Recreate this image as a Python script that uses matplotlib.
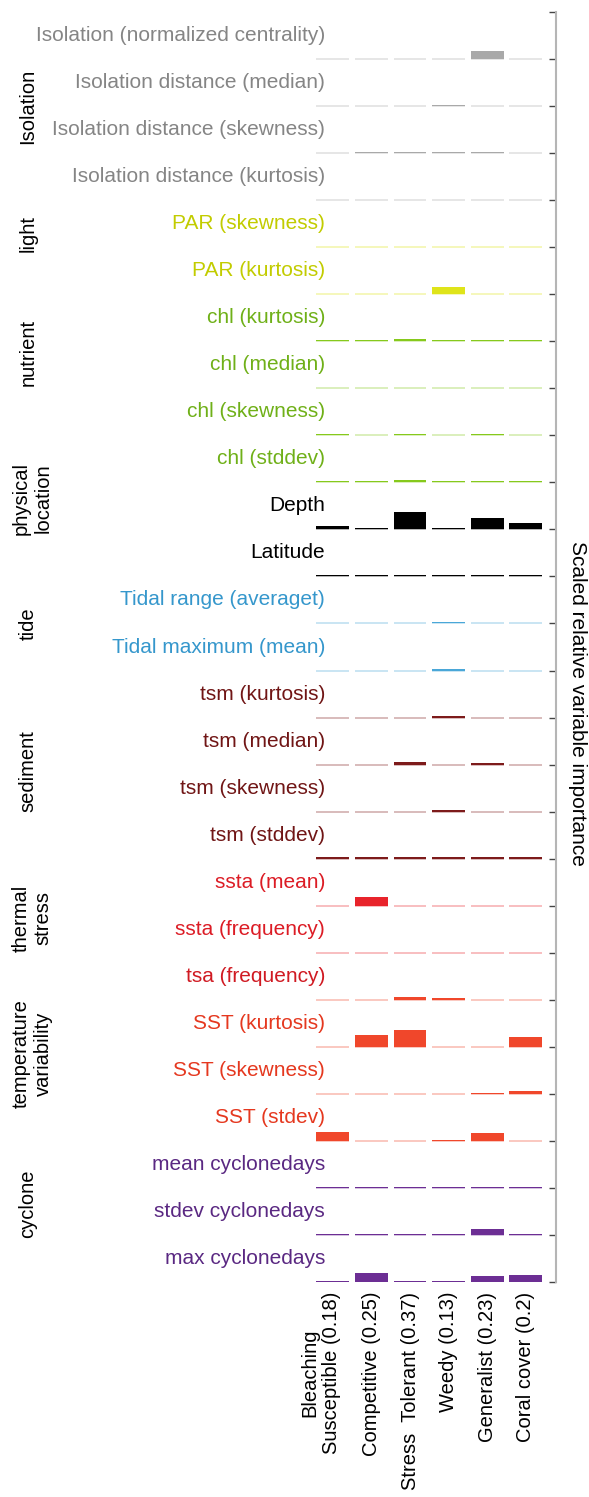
import numpy as np
import matplotlib
matplotlib.use("Agg")
import matplotlib.pyplot as plt
from matplotlib import transforms

plt.rcParams["font.family"] = ["Liberation Sans", "DejaVu Sans"]

# columns (model, AUC)
columns = ["Bleaching\nSusceptible (0.18)", "Competitive (0.25)",
           "Stress  Tolerant (0.37)", "Weedy (0.13)", "Generalist (0.23)",
           "Coral cover (0.2)"]

variables = ["Isolation (normalized centrality)", "Isolation distance (median)",
             "Isolation distance (skewness)", "Isolation distance (kurtosis)",
             "PAR (skewness)", "PAR (kurtosis)",
             "chl (kurtosis)", "chl (median)", "chl (skewness)", "chl (stddev)",
             "Depth", "Latitude",
             "Tidal range (averaget)", "Tidal maximum (mean)",
             "tsm (kurtosis)", "tsm (median)", "tsm (skewness)", "tsm (stddev)",
             "ssta (mean)", "ssta (frequency)",
             "tsa (frequency)", "SST (kurtosis)", "SST (skewness)", "SST (stdev)",
             "mean cyclonedays", "stdev cyclonedays", "max cyclonedays"]

groups = ["Isolation", "light", "nutrient", "physical\nlocation", "tide",
          "sediment", "thermal\nstress", "temperature\nvariability", "cyclone"]
group_sizes = [4, 2, 4, 2, 2, 4, 2, 4, 3]

# scaled relative variable importance, one row per variable
importance = np.array([
    [0.00, 0.00, 0.00, 0.00, 0.45, 0.00],
    [0.00, 0.00, 0.00, 0.06, 0.00, 0.00],
    [0.00, 0.08, 0.08, 0.08, 0.08, 0.00],
    [0.00, 0.00, 0.00, 0.00, 0.00, 0.00],
    [0.00, 0.00, 0.00, 0.00, 0.00, 0.00],
    [0.00, 0.00, 0.00, 0.41, 0.00, 0.00],
    [0.06, 0.06, 0.12, 0.06, 0.06, 0.06],
    [0.00, 0.00, 0.00, 0.00, 0.00, 0.00],
    [0.06, 0.00, 0.10, 0.00, 0.06, 0.00],
    [0.03, 0.03, 0.12, 0.03, 0.03, 0.03],
    [0.20, 0.03, 1.00, 0.03, 0.65, 0.35],
    [0.04, 0.04, 0.04, 0.04, 0.04, 0.04],
    [0.00, 0.00, 0.00, 0.06, 0.00, 0.00],
    [0.00, 0.00, 0.00, 0.06, 0.00, 0.00],
    [0.00, 0.00, 0.00, 0.06, 0.00, 0.00],
    [0.00, 0.00, 0.15, 0.00, 0.08, 0.00],
    [0.00, 0.00, 0.00, 0.08, 0.00, 0.00],
    [0.08, 0.03, 0.08, 0.03, 0.08, 0.03],
    [0.00, 0.50, 0.00, 0.00, 0.00, 0.00],
    [0.00, 0.00, 0.00, 0.00, 0.00, 0.00],
    [0.00, 0.00, 0.15, 0.08, 0.00, 0.00],
    [0.00, 0.70, 1.00, 0.00, 0.00, 0.55],
    [0.00, 0.00, 0.00, 0.00, 0.06, 0.15],
    [0.55, 0.00, 0.00, 0.06, 0.45, 0.00],
    [0.03, 0.03, 0.03, 0.03, 0.03, 0.03],
    [0.06, 0.03, 0.03, 0.03, 0.37, 0.03],
    [0.06, 0.50, 0.06, 0.02, 0.33, 0.42],
])

# colours per group
group_colors = ["#a9a9a9", "#dfe41a", "#86c91c", "#000000", "#4aa7d8",
                "#7d1b1b", "#e8232b", "#f0472b", "#6c2e94"]
text_colors = ["#858585", "#c2cc00", "#6fb018", "#000000", "#3597cc",
               "#701515", "#dc1c25", "#e5381f", "#5a2882"]

row_col = []
row_txt = []
for g, n in enumerate(group_sizes):
    row_col += [group_colors[g]] * n
    row_txt += [text_colors[g]] * n
row_txt[20] = "#d01a22"  # tsa label sits with the SST rows but is red

W, H = 589, 1497
fig = plt.figure(figsize=(W / 100, H / 100), dpi=100)
ax = fig.add_axes([300 / W, (H - 1282) / H, 256 / W, 1270 / H])

nrow = len(variables)
scale = 17 / 47  # bar height of importance 1.0 in row units
min_h = 1.2 / 47  # thinnest visible bar
bw = 0.85
x = np.arange(len(columns))

for k in range(nrow):
    base = nrow - 1 - k
    c = row_col[k]
    ax.hlines([base] * len(x), x - bw / 2, x + bw / 2, colors=c, alpha=0.35,
              lw=1.2)
    v = importance[k]
    m = v > 0
    ax.bar(x[m], np.maximum(v[m] * scale, min_h), width=bw, bottom=base,
           color=c, lw=0)
    ax.text(-0.2, base + 0.5, variables[k], ha="right", va="center",
            fontsize=15, color=row_txt[k], clip_on=False)

ax.set_xlim(-0.85, 5.78)
ax.set_ylim(0, nrow)
ax.set_yticks(np.arange(nrow + 1))
ax.set_xticks([])
ax.yaxis.tick_right()
ax.tick_params(axis="y", direction="in", length=5, width=1, color="#444444",
               labelright=False)
for s in ["left", "top", "bottom"]:
    ax.spines[s].set_visible(False)
ax.spines["right"].set_color("#b5b5b5")
ax.spines["right"].set_linewidth(1.5)

# column labels under the plot
for i, lab in enumerate(columns):
    n = lab.count("\n") + 1
    tr = transforms.offset_copy(ax.transData, fig=fig,
                                x=-(n - 1) * 8.6, y=-7, units="points")
    ax.text(i, 0, lab, rotation=90, ha="center", va="top", fontsize=14.5,
            multialignment="center", transform=tr, clip_on=False)

# group labels at the left
offsets = [0, 0.3, 0.77, 0.66, 0, -0.13, -0.26, -0.15, 0.17]
btr = transforms.blended_transform_factory(fig.transFigure, ax.transData)
start = 0
for g, n in enumerate(group_sizes):
    yc = nrow - start - n / 2 + offsets[g]
    nl = groups[g].count("\n") + 1
    fig.text((28 + 4 * (nl - 1)) / W, yc, groups[g], rotation=90,
             ha="center", va="center", fontsize=14.5, transform=btr,
             multialignment="center")
    start += n

fig.text(578 / W, (H - 703) / H, "Scaled relative variable importance",
         rotation=-90, ha="center", va="center", fontsize=15)

fig.savefig("out.png", dpi=100)
